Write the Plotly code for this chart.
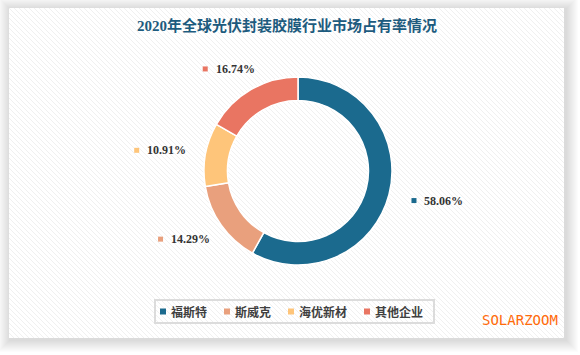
import math
import plotly.graph_objects as go

# ---- data ----
title_text = "2020年全球光伏封装胶膜行业市场占有率情况"
companies = ["福斯特", "斯威克", "海优新材", "其他企业"]
shares = [58.06, 14.29, 10.91, 16.74]
colors = ["#1b6a8e", "#e9a07d", "#fec57a", "#e97562"]
brand = "SOLARZOOM"

W, H = 580, 355
CX, CY, R = 298, 171, 94  # pie centre / radius in pixels


def px(x):
    return x / W


def py(y):
    return 1 - y / H


fig = go.Figure()
fig.add_trace(go.Pie(
    labels=companies, values=shares, sort=False, direction="clockwise",
    rotation=0, hole=0.75, textinfo="none", hoverinfo="skip",
    marker=dict(colors=colors, line=dict(color="white", width=1.5)),
    domain=dict(x=[px(CX - R), px(CX + R)], y=[py(CY + R), py(CY - R)]),
    showlegend=False,
))

shapes = []
annotations = []

# panel shadow
for k in range(12, 0, -1):
    shapes.append(dict(type="rect", xref="paper", yref="paper",
                       x0=px(9 - k + 1), x1=px(564 + k + 2), y0=py(338 + k + 2), y1=py(8 - k + 1),
                       fillcolor="rgba(0,0,0,0.012)", line=dict(width=0), layer="below"))
# panel
x0p, x1p, y0p, y1p = 9, 564, 8, 338
shapes.append(dict(type="rect", xref="paper", yref="paper",
                   x0=px(x0p), x1=px(x1p), y0=py(y1p), y1=py(y0p),
                   fillcolor="white", line=dict(width=0), layer="below"))
# diagonal stripes
segs = []
c = x0p - y1p
while c <= x1p - y0p:
    sx = max(x0p, y0p + c)
    ex = min(x1p, y1p + c)
    if ex > sx:
        segs.append(f"M{px(sx):.5f},{py(sx - c):.5f} L{px(ex):.5f},{py(ex - c):.5f}")
    c += 5
shapes.append(dict(type="path", xref="paper", yref="paper", path=" ".join(segs),
                   line=dict(color="#f0f0f0", width=1), layer="below"))

# data labels (square marker + percentage), placed radially from slice mid-angles
total = sum(shares)
cum = 0
A, B = 142, 118
for name, v, col in zip(companies, shares, colors):
    mid = (cum + v / 2) / total * 2 * math.pi
    cum += v
    bx = CX + A * math.sin(mid)
    by = CY - B * math.cos(mid)
    left = bx - 24
    shapes.append(dict(type="rect", xref="paper", yref="paper",
                       x0=px(left), x1=px(left + 5), y0=py(by + 2.5), y1=py(by - 2.5),
                       fillcolor=col, line=dict(width=0)))
    annotations.append(dict(xref="paper", yref="paper", x=px(left + 11), y=py(by),
                            xanchor="left", yanchor="middle", showarrow=False,
                            text=f"<b>{v:.2f}%</b>",
                            font=dict(family="Liberation Serif, Noto Sans CJK SC", size=12, color="#333333")))

# legend box
shapes.append(dict(type="rect", xref="paper", yref="paper",
                   x0=px(155), x1=px(434), y0=py(323), y1=py(300),
                   fillcolor="rgba(255,255,255,0)", line=dict(color="#dcdcdc", width=2)))
lx = 160
for name, col in zip(companies, colors):
    shapes.append(dict(type="rect", xref="paper", yref="paper",
                       x0=px(lx), x1=px(lx + 6), y0=py(314.5), y1=py(308.5),
                       fillcolor=col, line=dict(width=0)))
    annotations.append(dict(xref="paper", yref="paper", x=px(lx + 9), y=py(311.5),
                            xanchor="left", yanchor="middle", showarrow=False,
                            text=f"<b>{name}</b>",
                            font=dict(family="Noto Sans CJK SC", size=12, color="#404040")))
    lx += 9 + 12 * len(name) + 19

# title
annotations.append(dict(xref="paper", yref="paper", x=px(287), y=py(25),
                        xanchor="center", yanchor="middle", showarrow=False,
                        text=f"<b>{title_text}</b>",
                        font=dict(family="Liberation Serif, Noto Sans CJK SC", size=15, color="#1d5b7e")))
# brand
annotations.append(dict(xref="paper", yref="paper", x=px(560), y=py(320),
                        xanchor="right", yanchor="middle", showarrow=False,
                        text=brand,
                        font=dict(family="DejaVu Sans Mono", size=14, color="#ff6a0a")))

fig.update_layout(
    width=W, height=H, margin=dict(l=0, r=0, t=0, b=0),
    paper_bgcolor="white", plot_bgcolor="white",
    shapes=shapes, annotations=annotations, showlegend=False,
)
fig.write_html("out.html")
